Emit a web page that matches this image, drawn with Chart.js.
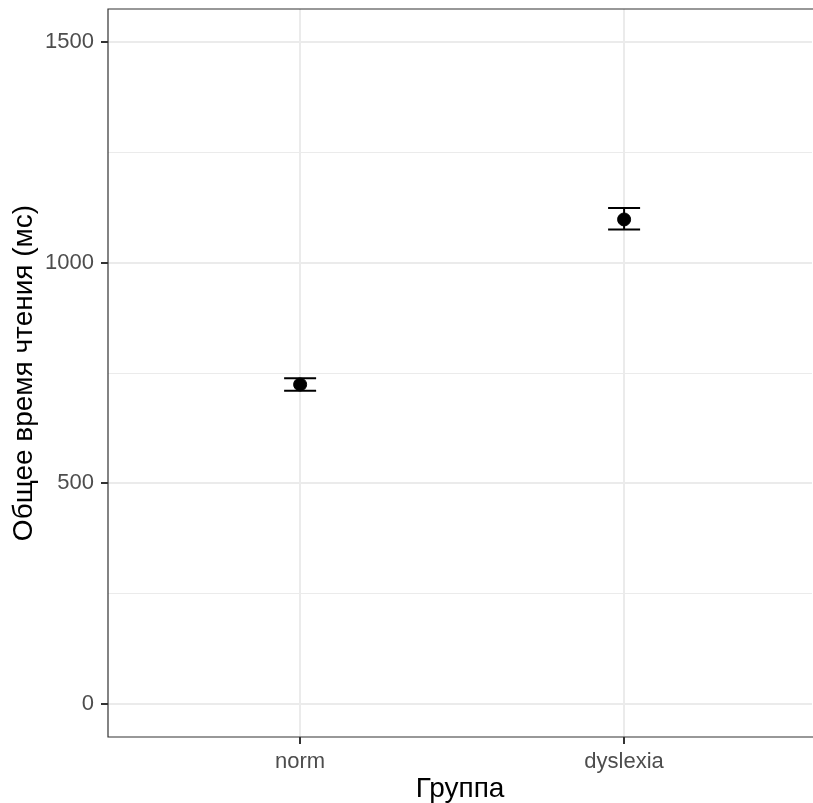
<!DOCTYPE html>
<html>
<head>
<meta charset="utf-8">
<script src="https://cdn.jsdelivr.net/npm/chart.js@4.4.0/dist/chart.umd.min.js"></script>
<style>
  html, body { margin: 0; padding: 0; background: #fff; }
  #wrap { width: 813px; height: 803px; }
</style>
</head>
<body>
<div id="wrap"><canvas id="chart" width="813" height="803"></canvas></div>
<script>
const groups = ['norm', 'dyslexia'];
const meanTime = [724, 1098];
const lowerCI = [710, 1075];
const upperCI = [738, 1124];
const yMajorTicks = [0, 500, 1000, 1500];
const yMinorTicks = [250, 750, 1250];

const FONT = "'Liberation Sans', Arial, sans-serif";

function isMajor(v) {
    return yMajorTicks.indexOf(v) > -1;
}

function noPadding(axis) {
    axis.paddingTop = 0;
    axis.paddingBottom = 0;
    axis.paddingLeft = 0;
    axis.paddingRight = 0;
}

const errorBars = {
    id: 'errorBars',
    beforeDatasetsDraw(chart) {
        const ctx = chart.ctx;
        const x = chart.scales.x;
        const y = chart.scales.y;
        ctx.save();
        ctx.strokeStyle = '#000';
        ctx.lineWidth = 2;
        for (let i=0; i<groups.length; i++) {
            const px = x.getPixelForValue(i+1);
            const top = y.getPixelForValue(upperCI[i]);
            const bot = y.getPixelForValue(lowerCI[i]);
            ctx.beginPath();
            ctx.moveTo(px, top); ctx.lineTo(px, bot);
            ctx.moveTo(px-16, top); ctx.lineTo(px+16, top);
            ctx.moveTo(px-16, bot); ctx.lineTo(px+16, bot);
            ctx.stroke();
        }
        ctx.restore();
    },
    afterDraw(chart) {
        // panel border; its right side is cut off in the original picture
        const a = chart.chartArea;
        const ctx = chart.ctx;
        ctx.save();
        ctx.strokeStyle = '#333333';
        ctx.lineWidth = 1.2;
        ctx.beginPath();
        ctx.moveTo(a.right + 2, a.top);
        ctx.lineTo(a.left, a.top);
        ctx.lineTo(a.left, a.bottom);
        ctx.lineTo(a.right + 2, a.bottom);
        ctx.stroke();
        ctx.restore();
    }
};

new Chart(document.getElementById('chart'), {
    type: 'scatter',
    data: {
        datasets: [{
            data: meanTime.map((v, i) => ({x: i+1, y: v})),
            backgroundColor: '#000',
            borderColor: '#000',
            pointRadius: 6.5,
            pointHoverRadius: 6.5
        }]
    },
    options: {
        responsive: false,
        animation: false,
        events: [],
        layout: { autoPadding: false, padding: { top: 9, right: 1, left: 0, bottom: 0 } },
        plugins: { legend: { display: false }, tooltip: { enabled: false } },
        scales: {
            x: {
                type: 'linear',
                min: 0.407,
                max: 2.58,
                afterBuildTicks: (axis) => { axis.ticks = groups.map((g, i) => ({value: i+1})); },
                afterFit: (axis) => { axis.height = 66; noPadding(axis); },
                ticks: {
                    callback: (v) => groups[v-1],
                    color: '#4D4D4D',
                    font: { family: FONT, size: 22 },
                    padding: 5,
                    maxRotation: 0
                },
                grid: {
                    color: '#EBEBEB',
                    lineWidth: 2,
                    tickLength: 7,
                    tickColor: '#333333',
                    tickWidth: 2
                },
                border: { display: false },
                title: {
                    display: true,
                    text: 'Группа',
                    color: '#000',
                    font: { family: FONT, size: 28, lineHeight: 1 },
                    padding: { top: 0, bottom: 0 }
                }
            },
            y: {
                min: -75,
                max: 1575,
                afterBuildTicks: (axis) => {
                    axis.ticks = yMajorTicks.concat(yMinorTicks).sort((a, b) => a - b).map(v => ({value: v}));
                },
                afterFit: (axis) => { axis.width = 108; noPadding(axis); },
                ticks: {
                    callback: (v) => isMajor(v) ? String(v) : '',
                    color: '#4D4D4D',
                    font: { family: FONT, size: 22 },
                    padding: 7
                },
                grid: {
                    color: '#EBEBEB',
                    lineWidth: (c) => isMajor(c.tick.value) ? 2 : 1,
                    tickLength: 7,
                    tickColor: (c) => isMajor(c.tick.value) ? '#333333' : 'rgba(0,0,0,0)',
                    tickWidth: 2
                },
                border: { display: false },
                title: {
                    display: true,
                    text: 'Общее время чтения (мс)',
                    color: '#000',
                    font: { family: FONT, size: 28 },
                    padding: { top: 7, bottom: 0 }
                }
            }
        }
    },
    plugins: [errorBars]
});
</script>
</body>
</html>
